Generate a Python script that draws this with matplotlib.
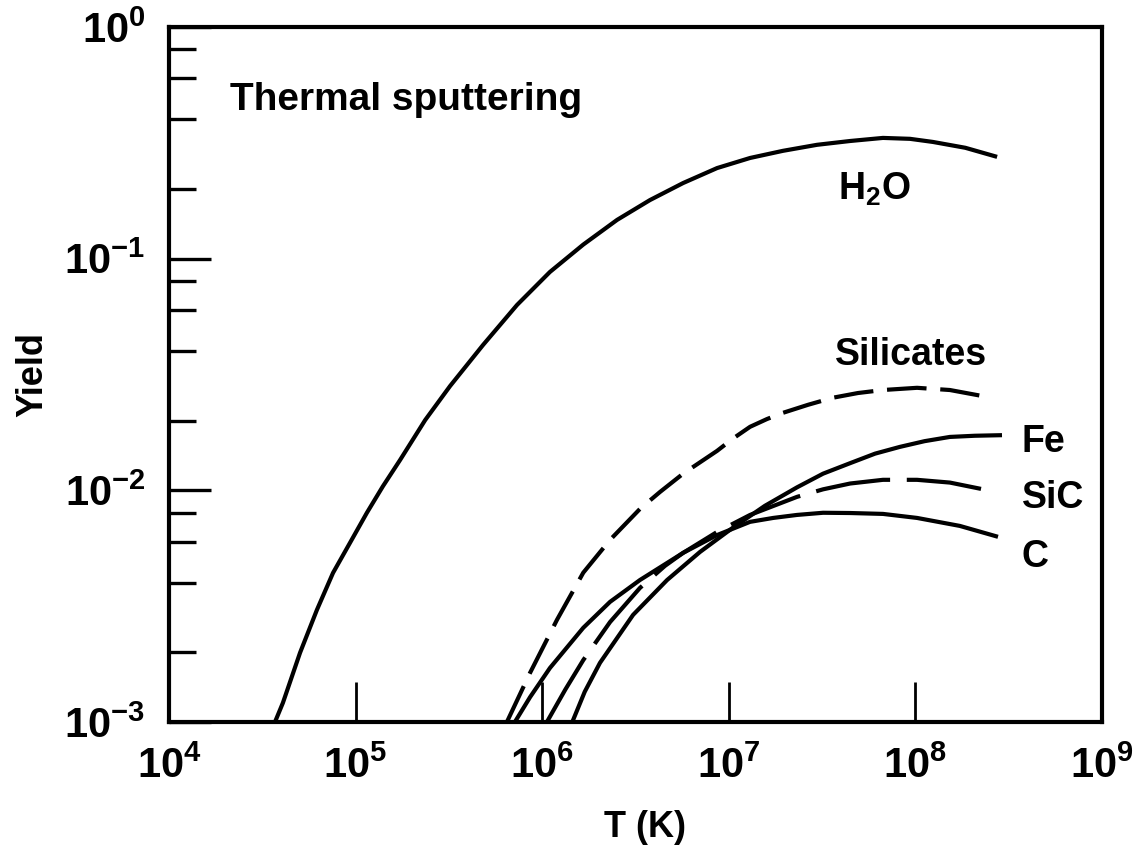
import matplotlib
matplotlib.use("Agg")
import matplotlib.pyplot as plt
from matplotlib.ticker import LogLocator, NullLocator

plt.rcParams['font.family'] = ['Liberation Sans', 'DejaVu Sans']
plt.rcParams['font.weight'] = 'bold'
plt.rcParams['mathtext.fontset'] = 'custom'
plt.rcParams['mathtext.rm'] = 'Liberation Sans:bold'
plt.rcParams['mathtext.bf'] = 'Liberation Sans:bold'
plt.rcParams['mathtext.it'] = 'Liberation Sans:bold'
plt.rcParams['mathtext.default'] = 'rm'

# temperatures (K) and yields
h2o_T = [3.70e4, 4.08e4, 5.04e4, 6.21e4, 7.57e4, 9.33e4, 1.15e5, 1.40e5, 1.73e5,
         2.36e5, 3.21e5, 4.82e5, 7.33e5, 1.10e6, 1.66e6, 2.52e6, 3.78e6, 5.69e6,
         8.65e6, 1.30e7, 1.95e7, 2.97e7, 4.47e7, 6.70e7, 9.35e7, 1.24e8, 1.85e8, 2.74e8]
h2o_Y = [1.00e-3, 1.21e-3, 1.99e-3, 3.05e-3, 4.40e-3, 5.93e-3, 8.00e-3, 1.04e-2, 1.35e-2,
         2.01e-2, 2.82e-2, 4.24e-2, 6.31e-2, 8.76e-2, 0.115, 0.147, 0.179, 0.212,
         0.246, 0.272, 0.292, 0.310, 0.322, 0.332, 0.329, 0.319, 0.301, 0.275]

sil_T = [6.47e5, 8.61e5, 1.20e6, 1.66e6, 2.31e6, 3.34e6, 4.28e6, 5.69e6, 8.65e6, 1.05e7,
         1.30e7, 1.60e7, 1.95e7, 2.66e7, 3.61e7, 4.92e7, 6.70e7, 1.02e8, 1.53e8, 2.30e8]
sil_Y = [1.00e-3, 1.63e-3, 2.76e-3, 4.41e-3, 6.11e-3, 8.31e-3, 9.84e-3, 1.18e-2, 1.48e-2, 1.67e-2,
         1.88e-2, 2.03e-2, 2.16e-2, 2.34e-2, 2.51e-2, 2.63e-2, 2.71e-2, 2.77e-2, 2.71e-2, 2.55e-2]

fe_T = [1.45e6, 1.69e6, 2.04e6, 3.07e6, 4.67e6, 7.01e6, 1.05e7, 1.56e7, 2.32e7, 3.20e7,
        4.47e7, 6.08e7, 8.26e7, 1.12e8, 1.53e8, 2.08e8, 2.91e8]
fe_Y = [1.00e-3, 1.35e-3, 1.80e-3, 2.90e-3, 4.10e-3, 5.42e-3, 6.89e-3, 8.57e-3, 1.03e-2, 1.18e-2,
        1.31e-2, 1.44e-2, 1.54e-2, 1.63e-2, 1.70e-2, 1.72e-2, 1.73e-2]

sic_T = [1.06e6, 1.33e6, 1.66e6, 2.31e6, 3.34e6, 4.55e6, 5.69e6, 8.65e6, 1.30e7,
         2.32e7, 3.20e7, 4.47e7, 6.70e7, 1.02e8, 1.53e8, 2.45e8]
sic_Y = [1.00e-3, 1.38e-3, 1.85e-3, 2.70e-3, 3.79e-3, 4.72e-3, 5.37e-3, 6.61e-3, 7.83e-3,
         9.37e-3, 1.01e-2, 1.07e-2, 1.11e-2, 1.11e-2, 1.08e-2, 1.00e-2]

c_T = [7.14e5, 8.61e5, 1.10e6, 1.66e6, 2.31e6, 3.34e6, 5.69e6, 8.65e6, 1.30e7, 1.73e7,
       2.32e7, 3.20e7, 4.47e7, 6.70e7, 1.02e8, 1.73e8, 2.77e8]
c_Y = [1.00e-3, 1.28e-3, 1.71e-3, 2.55e-3, 3.30e-3, 4.10e-3, 5.37e-3, 6.41e-3, 7.31e-3, 7.60e-3,
       7.83e-3, 8.00e-3, 7.98e-3, 7.91e-3, 7.60e-3, 7.02e-3, 6.30e-3]

fig = plt.figure(figsize=(11.47, 8.51), dpi=100)
ax = fig.add_axes([0.1473, 0.1516, 0.8135, 0.8167])

lw = 3.0
ax.plot(h2o_T, h2o_Y, color='black', lw=lw, solid_capstyle='butt')
ax.plot(sil_T, sil_Y, color='black', lw=lw, dashes=(9.5, 3.3), dash_capstyle='butt')
ax.plot(fe_T, fe_Y, color='black', lw=lw, solid_capstyle='butt')
ax.plot(sic_T, sic_Y, color='black', lw=lw, dashes=(18, 4), dash_capstyle='butt')
ax.plot(c_T, c_Y, color='black', lw=lw, solid_capstyle='butt')

ax.set_xscale('log')
ax.set_yscale('log')
ax.set_xlim(1e4, 1e9)
ax.set_ylim(1e-3, 1e0)

ax.xaxis.set_major_locator(LogLocator(base=10, numticks=10))
ax.xaxis.set_minor_locator(NullLocator())
ax.yaxis.set_major_locator(LogLocator(base=10, numticks=10))
ax.yaxis.set_minor_locator(LogLocator(base=10, subs=[2, 4, 6, 8], numticks=10))
ax.yaxis.set_minor_formatter(plt.NullFormatter())

ax.tick_params(axis='x', which='major', direction='in', length=29, width=2,
               pad=18, labelsize=30)
ax.tick_params(axis='y', which='major', direction='in', length=30, width=2.4,
               pad=17, labelsize=30)
ax.tick_params(axis='y', which='minor', direction='in', length=19.5, width=2.4)
ax.tick_params(top=False, right=False, which='both')

for s in ax.spines.values():
    s.set_linewidth(3)

ax.set_xlabel('T (K)', fontsize=26, fontweight='bold')
ax.set_ylabel('Yield', fontsize=26, fontweight='bold')
ax.xaxis.set_label_coords(0.51, -0.127)
ax.yaxis.set_label_coords(-0.127, 0.5)

fs = 27
ax.text(2.12e4, 0.438, 'Thermal sputtering', fontsize=28, fontweight='bold', va='baseline')
ax.text(3.85e7, 0.179, r'H$_2$O', fontsize=fs, fontweight='bold', va='baseline')
ax.text(3.71e7, 0.0348, 'Silicates', fontsize=fs, fontweight='bold', va='baseline')
ax.text(3.72e8, 0.01466, 'Fe', fontsize=fs, fontweight='bold', va='baseline')
ax.text(3.72e8, 8.39e-3, 'SiC', fontsize=fs, fontweight='bold', va='baseline')
ax.text(3.72e8, 4.67e-3, 'C', fontsize=fs, fontweight='bold', va='baseline')

fig.savefig('out.png', dpi=100)
